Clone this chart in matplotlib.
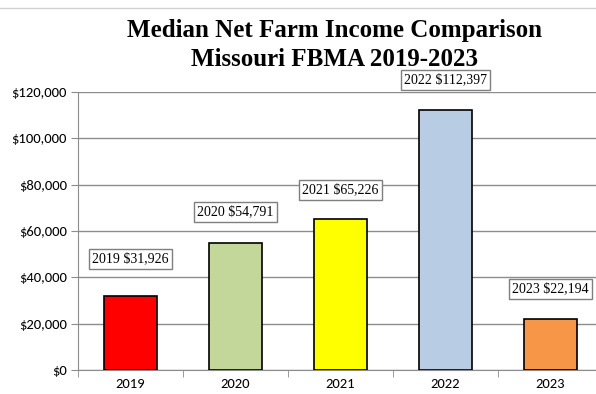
import matplotlib
matplotlib.use("Agg")
import matplotlib.pyplot as plt
from matplotlib.ticker import FuncFormatter, FixedLocator

years = ["2019", "2020", "2021", "2022", "2023"]
income = [31926, 54791, 65226, 112397, 22194]
bar_colors = ["#FF0000", "#C4D79B", "#FFFF00", "#B8CCE4", "#F79646"]
label_lift = [37, 31, 29, 30, 30]  # px above bar top for the value boxes

fig = plt.figure(figsize=(5.96, 3.94), dpi=100)
ax = fig.add_axes([78/596, 1 - 370/394, 525/596, 278/394])

x = range(len(years))
ax.bar(x, income, width=0.5, color=bar_colors, edgecolor="black", linewidth=1.2, zorder=3)

ax.set_xlim(-0.5, 4.5)
ax.set_ylim(0, 120000)
ax.set_yticks(range(0, 120001, 20000))
ax.yaxis.set_major_formatter(FuncFormatter(lambda v, p: f"${v:,.0f}"))
ax.grid(axis="y", color="#8c8c8c", linewidth=1, zorder=0)

ax.set_xticks(list(x))
ax.set_xticklabels(years)
ax.xaxis.set_minor_locator(FixedLocator([i - 0.5 for i in range(len(years) + 1)]))
ax.tick_params(axis="x", which="major", length=0, pad=6, labelsize=10.5)
ax.tick_params(axis="x", which="minor", length=5, color="#8c8c8c", direction="out")
ax.tick_params(axis="y", length=5, color="#8c8c8c", labelsize=10.5, pad=3)
tick_font = "Carlito" if "Carlito" in matplotlib.font_manager.get_font_names() else "DejaVu Sans"
for lbl in ax.get_xticklabels() + ax.get_yticklabels():
    lbl.set_fontfamily(tick_font)

for side in ["top", "right"]:
    ax.spines[side].set_visible(False)
ax.spines["left"].set_color("#8c8c8c")
ax.spines["bottom"].set_color("#8c8c8c")

for i, (yr, val) in enumerate(zip(years, income)):
    ax.annotate(f"{yr} ${val:,}", xy=(i, val), xytext=(0, label_lift[i] * 0.72),
                textcoords="offset points", ha="center", va="center",
                fontsize=10, family="Liberation Serif", zorder=5,
                bbox=dict(boxstyle="square,pad=0.25", fc="white", ec="#7f7f7f", lw=1))

fig.text(0.562, 1 - 45/394, "Median Net Farm Income Comparison\nMissouri FBMA 2019-2023",
         ha="center", va="center", fontsize=18, fontweight="bold",
         family="Liberation Serif", linespacing=1.3)

# thin border line across the top of the chart area
fig.add_artist(plt.Line2D([0, 1], [1 - 8/394, 1 - 8/394], color="#d0d0d0", lw=1))

fig.savefig("out.png", dpi=100)
